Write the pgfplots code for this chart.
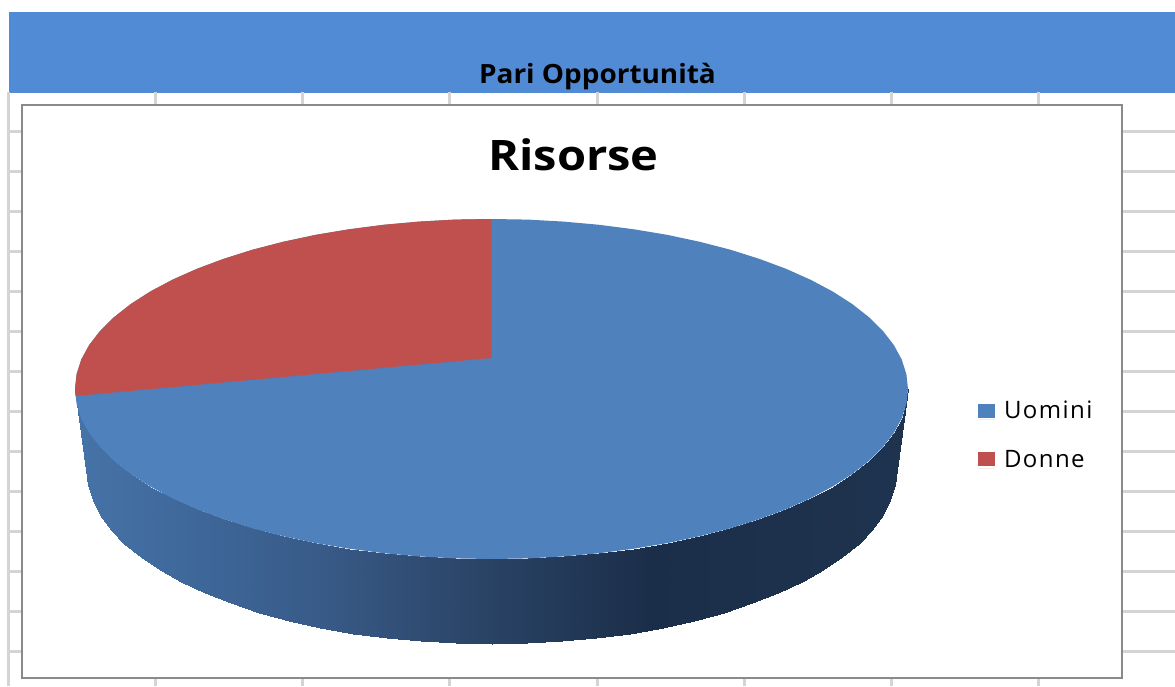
\documentclass[border=0pt]{standalone}
\usepackage{fontspec}
\setmainfont{Open Sans}
\newfontfamily\legfont[LetterSpace=6]{Open Sans}
\usepackage{pgfplots}
\pgfplotsset{compat=1.18}
\definecolor{uomini}{HTML}{4F81BD}
\definecolor{donne}{HTML}{C0504D}
\definecolor{band}{RGB}{81,139,214}
\definecolor{griglia}{RGB}{212,212,212}
\definecolor{cornice}{RGB}{138,138,138}

\begin{document}
\begin{tikzpicture}
\begin{axis}[
    scale only axis,
    width=1175pt, height=686pt,
    xmin=0, xmax=1175,
    ymin=0, ymax=686,
    y dir=reverse,
    hide axis,
    unbounded coords=jump,
    colormap={fianco}{
        rgb255(75pt)=(70,115,168)
        rgb255(200pt)=(62,103,153)
        rgb255(325pt)=(56,90,135)
        rgb255(450pt)=(45,72,108)
        rgb255(650pt)=(27,46,73)
        rgb255(925pt)=(31,52,80)
    },
    point meta min=75, point meta max=925,
    legend style={
        at={(axis cs:978,401)}, anchor=north west,
        draw=none, fill=none, inner sep=0pt, outer sep=0pt,
        row sep=30pt,
        font=\fontsize{24}{28}\selectfont\legfont,
        nodes={inner sep=0pt},
        /tikz/column 1/.style={column sep=9pt},
    },
    legend cell align=left,
    legend image code/.code={
        \path (0pt,-9pt) -- (17pt,-9pt);
        \fill[#1] (0pt,-7pt) rectangle (17pt,7pt);
    },
]
% page background
\addplot[forget plot, fill=white, draw=none] coordinates {(0,0) (1175,0) (1175,686) (0,686)} --cycle;
% header band of the sheet
\addplot[forget plot, fill=band, draw=none] coordinates {(9,12) (1175,12) (1175,93) (9,93)} --cycle;
% sheet grid
\addplot[forget plot, griglia, line width=2.6pt] coordinates {
    (9,131.7) (1175,131.7) (0,nan)
    (9,171.7) (1175,171.7) (0,nan)
    (9,211.7) (1175,211.7) (0,nan)
    (9,251.7) (1175,251.7) (0,nan)
    (9,291.7) (1175,291.7) (0,nan)
    (9,331.7) (1175,331.7) (0,nan)
    (9,371.7) (1175,371.7) (0,nan)
    (9,411.7) (1175,411.7) (0,nan)
    (9,451.7) (1175,451.7) (0,nan)
    (9,491.7) (1175,491.7) (0,nan)
    (9,531.7) (1175,531.7) (0,nan)
    (9,571.7) (1175,571.7) (0,nan)
    (9,611.7) (1175,611.7) (0,nan)
    (9,651.7) (1175,651.7) (0,nan)
};
\addplot[forget plot, griglia, line width=3pt] coordinates {
    (8.5,92) (8.5,686) (0,nan)
    (155.5,92) (155.5,686) (0,nan)
    (302.5,92) (302.5,686) (0,nan)
    (449.5,92) (449.5,686) (0,nan)
    (597,92) (597,686) (0,nan)
    (744,92) (744,686) (0,nan)
    (891,92) (891,686) (0,nan)
    (1038,92) (1038,686)
};
% chart area
\addplot[forget plot, fill=white, draw=cornice, line width=2.2pt] coordinates {(22,105) (1122,105) (1122,678) (22,678)} --cycle;

% side of the pie, one strip per 5 degrees
\addplot[forget plot, patch, patch type=rectangle, shader=interp, point meta=x] coordinates {
(75.0,389.0) (86.5,470.0) (88.0,485.2) (76.6,403.8)
(76.6,403.8) (88.0,485.2) (92.7,500.2) (81.3,418.5)
(81.3,418.5) (92.7,500.2) (100.3,515.0) (89.2,433.0)
(89.2,433.0) (100.3,515.0) (110.9,529.5) (100.1,447.1)
(100.1,447.1) (110.9,529.5) (124.4,543.5) (114.0,460.8)
(114.0,460.8) (124.4,543.5) (140.8,557.0) (130.8,474.0)
(130.8,474.0) (140.8,557.0) (159.7,569.8) (150.3,486.5)
(150.3,486.5) (159.7,569.8) (181.3,581.8) (172.5,498.3)
(172.5,498.3) (181.3,581.8) (205.1,593.0) (197.0,509.2)
(197.0,509.2) (205.1,593.0) (231.2,603.3) (223.8,519.2)
(223.8,519.2) (231.2,603.3) (259.2,612.5) (252.6,528.3)
(252.6,528.3) (259.2,612.5) (289.0,620.7) (283.2,536.2)
(283.2,536.2) (289.0,620.7) (320.3,627.7) (315.5,543.1)
(315.5,543.1) (320.3,627.7) (353.0,633.5) (349.1,548.7)
(349.1,548.7) (353.0,633.5) (386.7,638.1) (383.7,553.2)
(383.7,553.2) (386.7,638.1) (421.2,641.4) (419.2,556.4)
(419.2,556.4) (421.2,641.4) (456.2,643.3) (455.2,558.4)
(455.2,558.4) (456.2,643.3) (491.5,644.0) (491.5,559.0)
(491.5,559.0) (491.5,644.0) (526.8,643.3) (527.8,558.4)
(527.8,558.4) (526.8,643.3) (561.8,641.4) (563.8,556.4)
(563.8,556.4) (561.8,641.4) (596.3,638.1) (599.3,553.2)
(599.3,553.2) (596.3,638.1) (630.0,633.5) (633.9,548.7)
(633.9,548.7) (630.0,633.5) (662.7,627.7) (667.5,543.1)
(667.5,543.1) (662.7,627.7) (694.0,620.7) (699.8,536.2)
(699.8,536.2) (694.0,620.7) (723.8,612.5) (730.4,528.3)
(730.4,528.3) (723.8,612.5) (751.8,603.3) (759.2,519.2)
(759.2,519.2) (751.8,603.3) (777.9,593.0) (786.0,509.2)
(786.0,509.2) (777.9,593.0) (801.7,581.8) (810.5,498.3)
(810.5,498.3) (801.7,581.8) (823.3,569.8) (832.7,486.5)
(832.7,486.5) (823.3,569.8) (842.2,557.0) (852.2,474.0)
(852.2,474.0) (842.2,557.0) (858.6,543.5) (869.0,460.8)
(869.0,460.8) (858.6,543.5) (872.1,529.5) (882.9,447.1)
(882.9,447.1) (872.1,529.5) (882.7,515.0) (893.8,433.0)
(893.8,433.0) (882.7,515.0) (890.3,500.2) (901.7,418.5)
(901.7,418.5) (890.3,500.2) (895.0,485.2) (906.4,403.8)
(906.4,403.8) (895.0,485.2) (896.5,470.0) (908.0,389.0)
};

% top of the pie: Uomini
\addplot[fill=uomini, draw=none] coordinates {
(75.0,389.0) (76.6,403.8) (81.3,418.5) (89.2,433.0) (100.1,447.1) (114.0,460.8)
(130.8,474.0) (150.3,486.5) (172.5,498.3) (197.0,509.2) (223.8,519.2) (252.6,528.3)
(283.2,536.2) (315.5,543.1) (349.1,548.7) (383.7,553.2) (419.2,556.4) (455.2,558.4)
(491.5,559.0) (527.8,558.4) (563.8,556.4) (599.3,553.2) (633.9,548.7) (667.5,543.1)
(699.8,536.2) (730.4,528.3) (759.2,519.2) (786.0,509.2) (810.5,498.3) (832.7,486.5)
(852.2,474.0) (869.0,460.8) (882.9,447.1) (893.8,433.0) (901.7,418.5) (906.4,403.8)
(908.0,389.0) (906.4,374.2) (901.7,359.5) (893.8,345.0) (882.9,330.9) (869.0,317.2)
(852.2,304.0) (832.7,291.5) (810.5,279.7) (786.0,268.8) (759.2,258.8) (730.4,249.7)
(699.8,241.8) (667.5,234.9) (633.9,229.3) (599.3,224.8) (563.8,221.6) (527.8,219.6)
(491.5,219.0) (455.2,219.6) (419.2,221.6) (383.7,224.8) (349.1,229.3) (315.5,234.9)
(283.2,241.8) (252.6,249.7) (223.8,258.8) (197.0,268.8) (172.5,279.7) (150.3,291.5)
(130.8,304.0) (114.0,317.2) (100.1,330.9) (89.2,345.0) (81.3,359.5) (76.6,374.2)
} --cycle;
\addlegendentry{Uomini}

% Donne slice
\addplot[fill=donne, draw=none] coordinates {
(491.5,358.0) (491.5,219.0) (455.2,219.6) (419.2,221.6) (383.7,224.8) (349.1,229.3)
(315.5,234.9) (283.2,241.8) (252.6,249.7) (223.8,258.8) (197.0,268.8) (172.5,279.7)
(150.3,291.5) (130.8,304.0) (114.0,317.2) (100.1,330.9) (89.2,345.0) (81.3,359.5)
(76.6,374.2) (75.0,389.0) (75.4,396.0)
} --cycle;
\addlegendentry{Donne}

\node[anchor=base, inner sep=0pt, xscale=1.12] at (axis cs:573.5,170)
    {\fontsize{42}{50}\selectfont\bfseries Risorse};
\node[anchor=base, inner sep=0pt, xscale=1.054] at (axis cs:597.5,83.3)
    {\fontsize{26.5}{32}\selectfont\bfseries Pari Opportunità};
\end{axis}
\end{tikzpicture}
\end{document}
